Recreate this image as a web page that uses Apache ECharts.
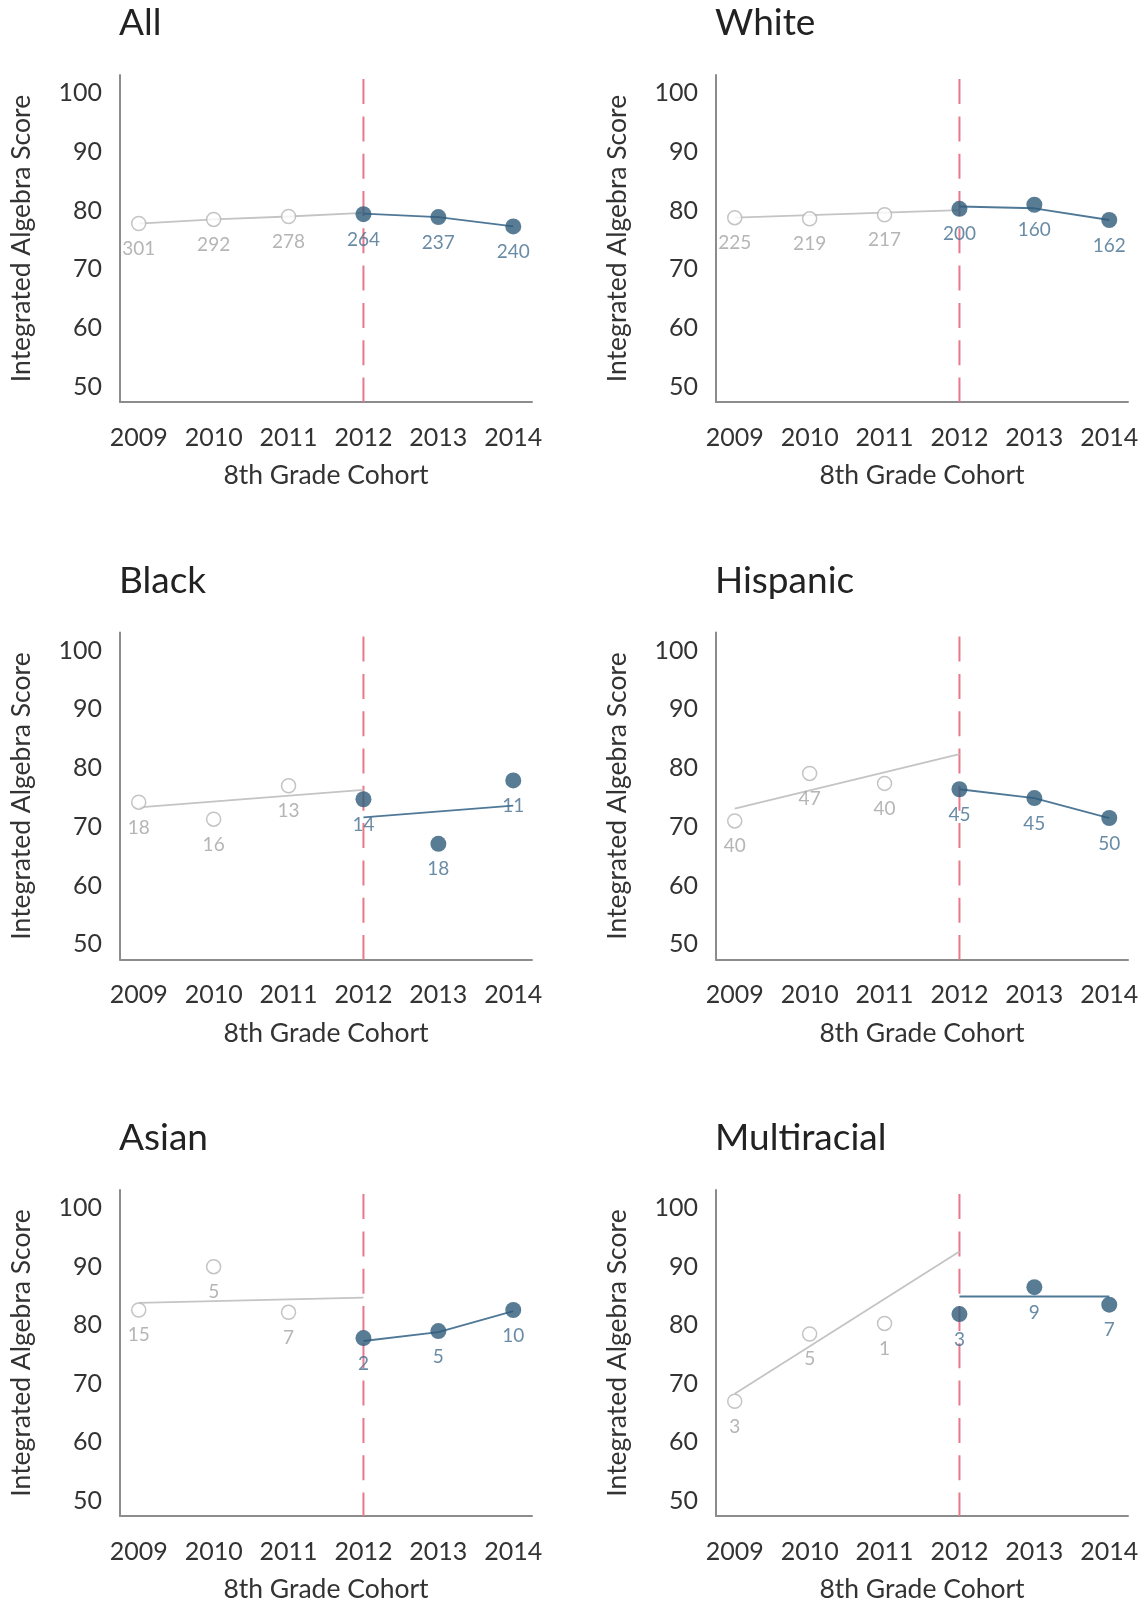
<!DOCTYPE html>
<html>
<head>
<meta charset="utf-8">
<script src="https://cdn.jsdelivr.net/npm/echarts@6/dist/echarts.min.js"></script>
<style>
html,body{margin:0;padding:0;background:#fff;}
#chart{width:1146px;height:1604px;}
</style>
</head>
<body>
<div id="chart"></div>
<script>
// ---- data ----
const years = [2009, 2010, 2011, 2012, 2013, 2014];
const yTicks = [50, 60, 70, 80, 90, 100];
const groupNames = ['All', 'White', 'Black', 'Hispanic', 'Asian', 'Multiracial'];
const cutYear = 2012;
const cutLine = [102.4, 47.4];

const allScores = [77.8, 78.5, 79.0, 79.4, 78.9, 77.3];
const allCounts = [301, 292, 278, 264, 237, 240];
const allPre = [[2009, 77.8], [2010, 78.5], [2011, 79.0], [2012, 79.6]];
const allPost = [[2012, 79.5], [2013, 78.9], [2014, 77.3]];

const whiteScores = [78.8, 78.6, 79.3, 80.3, 81.0, 78.4];
const whiteCounts = [225, 219, 217, 200, 160, 162];
const whitePre = [[2009, 78.8], [2012, 80.1]];
const whitePost = [[2012, 80.7], [2013, 80.4], [2014, 78.4]];

const blackScores = [74.2, 71.3, 77.0, 74.7, 67.1, 77.9];
const blackCounts = [18, 16, 13, 14, 18, 11];
const blackPre = [[2009, 73.3], [2012, 76.3]];
const blackPost = [[2012, 71.6], [2014, 73.6]];

const hispanicScores = [71.0, 79.1, 77.4, 76.4, 74.9, 71.5];
const hispanicCounts = [40, 47, 40, 45, 45, 50];
const hispanicPre = [[2009, 73.1], [2012, 82.4]];
const hispanicPost = [[2012, 76.4], [2013, 74.9], [2014, 71.5]];

const asianScores = [82.6, 90.0, 82.2, 77.8, 79.0, 82.6];
const asianCounts = [15, 5, 7, 2, 5, 10];
const asianPre = [[2009, 83.8], [2012, 84.7]];
const asianPost = [[2012, 77.3], [2013, 78.8], [2014, 82.4]];

const multiScores = [67.0, 78.5, 80.3, 81.9, 86.5, 83.5];
const multiCounts = [3, 5, 1, 3, 9, 7];
const multiPre = [[2009, 68.3], [2012, 92.6]];
const multiPost = [[2012, 84.9], [2014, 84.9]];

const panels = [
  {scores: allScores, counts: allCounts, pre: allPre, post: allPost},
  {scores: whiteScores, counts: whiteCounts, pre: whitePre, post: whitePost},
  {scores: blackScores, counts: blackCounts, pre: blackPre, post: blackPost},
  {scores: hispanicScores, counts: hispanicCounts, pre: hispanicPre, post: hispanicPost},
  {scores: asianScores, counts: asianCounts, pre: asianPre, post: asianPost},
  {scores: multiScores, counts: multiCounts, pre: multiPre, post: multiPost}
];

// ---- layout / style ----
const FONT = 'Lato';
const colLeft = [120, 716];
const rowTop = [75, 632.5, 1190];
const gridW = 412, gridH = 327;
const GRAY_LINE = '#c4c4c4';
const GRAY_PT = '#b5b5b5';
const GRAY_LBL = '#a3a3a3';
const BLUE = '#2f5b7b';
const BLUE_LINE = '#4f7897';
const BLUE_LBL = '#446e8e';
const RED = '#e8788a';
const AXIS = '#8c8c8c';
const TEXT = '#333333';

const option = {
  backgroundColor: '#fff',
  animation: false,
  title: [], grid: [], xAxis: [], yAxis: [], series: []
};

panels.forEach((p, i) => {
  const col = i % 2, row = Math.floor(i / 2);
  const left = colLeft[col], top = rowTop[row];
  option.title.push({
    text: groupNames[i], left: left - 1, top: top - 70, padding: 0,
    textStyle: {fontFamily: FONT, fontSize: 37, fontWeight: 'normal', color: '#222222'}
  });
  option.grid.push({left: left, top: top, width: gridW, height: gridH, containLabel: false});
  option.xAxis.push({
    type: 'value', gridIndex: i, min: 2008.75, max: 2014.25,
    name: '8th Grade Cohort', nameLocation: 'middle', nameGap: 60,
    nameTextStyle: {fontFamily: FONT, fontSize: 26.5, color: TEXT},
    axisLine: {show: true, lineStyle: {color: AXIS, width: 2}},
    axisTick: {show: false}, splitLine: {show: false},
    axisLabel: {customValues: years, margin: 23, fontFamily: FONT, fontSize: 25, color: TEXT,
      formatter: v => String(v)}
  });
  option.yAxis.push({
    type: 'value', gridIndex: i, min: 47.4, max: 103.1,
    name: 'Integrated Algebra Score', nameLocation: 'middle', nameGap: 85,
    nameTextStyle: {fontFamily: FONT, fontSize: 26.5, color: TEXT},
    axisLine: {show: true, lineStyle: {color: AXIS, width: 2}},
    axisTick: {show: false}, splitLine: {show: false},
    axisLabel: {customValues: yTicks, margin: 18, fontFamily: FONT, fontSize: 25, color: TEXT}
  });
  // red dashed cut line
  option.series.push({
    type: 'line', xAxisIndex: i, yAxisIndex: i, symbol: 'none', silent: true, z: 1,
    data: cutLine.map(v => [cutYear, v]),
    lineStyle: {color: RED, width: 2, type: [25, 12.3]}
  });
  option.series.push({
    type: 'line', xAxisIndex: i, yAxisIndex: i, symbol: 'none', z: 2,
    data: p.pre, lineStyle: {color: GRAY_LINE, width: 1.8}
  });
  option.series.push({
    type: 'line', xAxisIndex: i, yAxisIndex: i, symbol: 'none', z: 2,
    data: p.post, lineStyle: {color: BLUE_LINE, width: 1.8}
  });
  const preData = [], postData = [];
  years.forEach((y, k) => {
    const d = {value: [y, p.scores[k]], n: p.counts[k]};
    if (y < cutYear) preData.push(d); else postData.push(d);
  });
  option.series.push({
    type: 'scatter', xAxisIndex: i, yAxisIndex: i, z: 3, symbol: 'circle', symbolSize: 14,
    data: preData,
    itemStyle: {color: '#fff', borderColor: GRAY_PT, borderWidth: 1.5},
    label: {show: true, position: 'bottom', distance: 8, fontFamily: FONT, fontSize: 19, color: GRAY_LBL,
      formatter: q => String(q.data.n)}
  });
  option.series.push({
    type: 'scatter', xAxisIndex: i, yAxisIndex: i, z: 4, symbol: 'circle', symbolSize: 16,
    data: postData,
    itemStyle: {color: BLUE},
    label: {show: true, position: 'bottom', distance: 8, fontFamily: FONT, fontSize: 19, color: BLUE_LBL,
      formatter: q => String(q.data.n)}
  });
});

const chart = echarts.init(document.getElementById('chart'), null, {renderer: 'canvas'});
chart.setOption(option);
</script>
</body>
</html>
